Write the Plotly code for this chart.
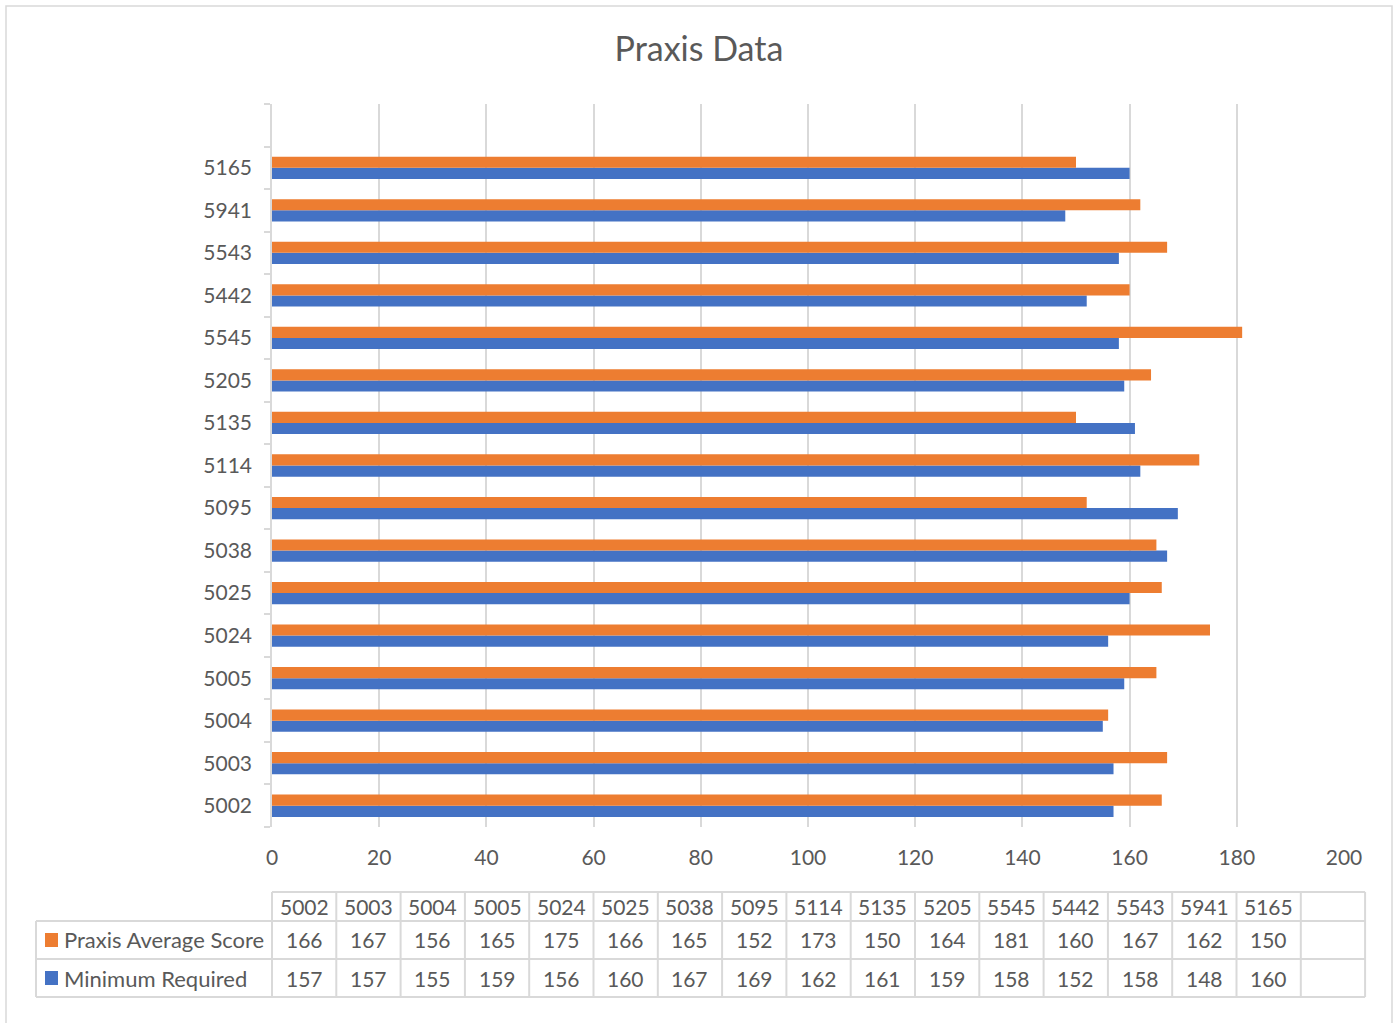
import plotly.graph_objects as go

# ---- data ----
categories = ["5002", "5003", "5004", "5005", "5024", "5025", "5038", "5095",
              "5114", "5135", "5205", "5545", "5442", "5543", "5941", "5165"]
praxis_avg = [166, 167, 156, 165, 175, 166, 165, 152, 173, 150, 164, 181, 160, 167, 162, 150]
min_required = [157, 157, 155, 159, 156, 160, 167, 169, 162, 161, 159, 158, 152, 158, 148, 160]
series_names = ["Praxis Average Score", "Minimum Required"]
x_ticks = list(range(0, 201, 20))

ORANGE = "#ED7D31"
BLUE = "#4472C4"
GRID = "#d9d9d9"
TXT = "#595959"
FONT = "Lato"

W, H = 1398, 1023
L, R, T, B = 272, 1344, 104, 827  # plot area in pixels

cats_all = categories + [" "]  # trailing empty column as in the source table


def px(x):
    return (x - L) / (R - L)


def py(y):
    return (B - y) / (B - T)


fig = go.Figure()
fig.add_trace(go.Bar(y=cats_all, x=min_required + [None], orientation="h",
                     name=series_names[1], marker=dict(color=BLUE, line=dict(width=0))))
fig.add_trace(go.Bar(y=cats_all, x=praxis_avg + [None], orientation="h",
                     name=series_names[0], marker=dict(color=ORANGE, line=dict(width=0))))

shapes = []
annotations = []

# outer chart border
shapes.append(dict(type="rect", xref="paper", yref="paper",
                   x0=px(6), x1=px(1392), y0=py(1040), y1=py(6),
                   line=dict(color=GRID, width=1.5), fillcolor="rgba(0,0,0,0)", layer="below"))

# ---- data table ----
col_x0 = 272
col_w = 64.3
ncols = len(cats_all)
row_y = [892, 921, 959, 997]
hdr_x0 = 36
tbl_right = col_x0 + col_w * ncols
line_style = dict(color=GRID, width=2)

# horizontal lines
shapes.append(dict(type="line", xref="paper", yref="paper", x0=px(col_x0), x1=px(tbl_right),
                   y0=py(row_y[0]), y1=py(row_y[0]), line=line_style))
for yy in row_y[1:]:
    shapes.append(dict(type="line", xref="paper", yref="paper", x0=px(hdr_x0), x1=px(tbl_right),
                       y0=py(yy), y1=py(yy), line=line_style))
# vertical lines
shapes.append(dict(type="line", xref="paper", yref="paper", x0=px(hdr_x0), x1=px(hdr_x0),
                   y0=py(row_y[1]), y1=py(row_y[3]), line=line_style))
for k in range(ncols + 1):
    xx = col_x0 + k * col_w
    shapes.append(dict(type="line", xref="paper", yref="paper", x0=px(xx), x1=px(xx),
                       y0=py(row_y[0]), y1=py(row_y[3]), line=line_style))

rows = [(series_names[0], praxis_avg, ORANGE), (series_names[1], min_required, BLUE)]
# header cells
for i, c in enumerate(categories):
    cx = col_x0 + (i + 0.5) * col_w
    annotations.append(dict(x=px(cx), y=py((row_y[0] + row_y[1]) / 2), xref="paper", yref="paper",
                            text=c, showarrow=False, xanchor="center", yanchor="middle",
                            font=dict(family=FONT, size=21, color=TXT)))
for r, (name, vals, col) in enumerate(rows):
    yc = (row_y[r + 1] + row_y[r + 2]) / 2
    # legend key square
    shapes.append(dict(type="rect", xref="paper", yref="paper", x0=px(45), x1=px(58),
                       y0=py(yc + 7), y1=py(yc - 7), fillcolor=col, line=dict(width=0)))
    annotations.append(dict(x=px(62), y=py(yc), xref="paper", yref="paper", text=name,
                            showarrow=False, xanchor="left", yanchor="middle",
                            font=dict(family=FONT, size=22, color=TXT)))
    for i, v in enumerate(vals):
        cx = col_x0 + (i + 0.5) * col_w
        annotations.append(dict(x=px(cx), y=py(yc), xref="paper", yref="paper", text=str(v),
                                showarrow=False, xanchor="center", yanchor="middle",
                                font=dict(family=FONT, size=21, color=TXT)))

fig.update_layout(
    width=W, height=H,
    margin=dict(l=L, r=W - R, t=T, b=H - B, autoexpand=False),
    paper_bgcolor="white", plot_bgcolor="white",
    barmode="group", bargap=0.476, bargroupgap=0,
    showlegend=False,
    title=dict(text="Praxis Data", x=0.5, xref="container", xanchor="center",
               y=1 - 49 / H, yref="container", yanchor="middle",
               font=dict(family=FONT, size=34, color=TXT)),
    xaxis=dict(range=[0, 200], tickvals=x_ticks, showgrid=True, gridcolor=GRID, gridwidth=1.5,
               zeroline=False, showline=False, ticks="", ticklabelstandoff=16,
               tickfont=dict(family=FONT, size=21, color=TXT), fixedrange=True),
    yaxis=dict(type="category", categoryorder="array", categoryarray=cats_all,
               range=[-0.5, ncols - 0.5], tickson="boundaries", ticks="outside", ticklen=6,
               tickcolor=GRID, tickwidth=1.5, showline=True, linecolor=GRID, linewidth=1.5,
               showgrid=False, zeroline=False, ticklabelstandoff=14,
               tickfont=dict(family=FONT, size=21, color=TXT), fixedrange=True),
    shapes=shapes,
    annotations=annotations,
)

fig.write_html("out.html", config={"displayModeBar": False},
               post_script="document.body.style.margin='0';document.body.style.overflow='hidden';")
